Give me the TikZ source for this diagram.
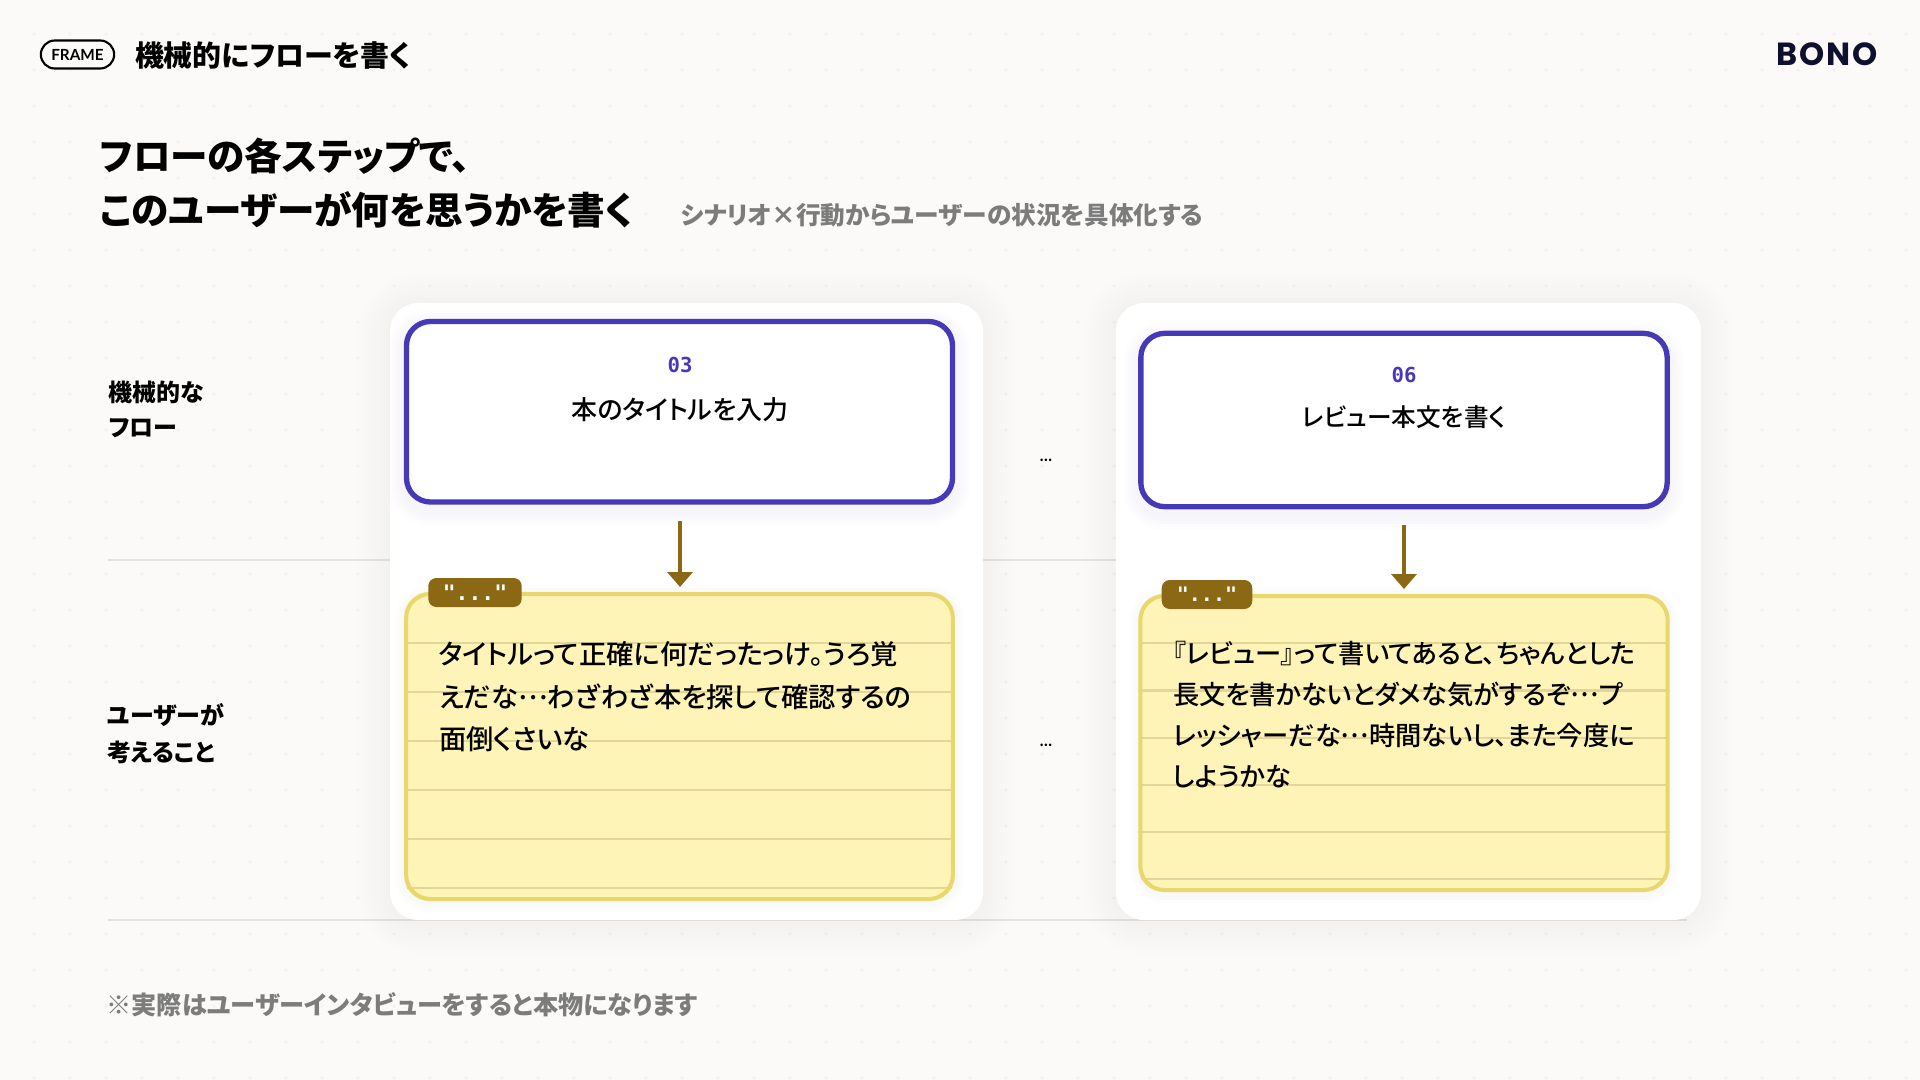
\documentclass[tikz,border=0pt]{standalone}
\usepackage{fontspec}
\usetikzlibrary{arrows.meta}
\setmainfont{Noto Sans CJK JP}[RawFeature=+palt]
\newfontfamily\medf{Noto Sans CJK JP Medium}[RawFeature=+palt]
\newfontfamily\monof{DejaVu Sans Mono}
\newfontfamily\latinf{Lato}
\newfontfamily\logof{Poppins}
\definecolor{pagebg}{HTML}{FBFAF8}
\definecolor{griddot}{HTML}{F3F2F0}
\definecolor{rulegray}{HTML}{E4E3E1}
\definecolor{flowpurple}{HTML}{4639B7}
\definecolor{notefill}{HTML}{FFF4B8}
\definecolor{noteedge}{HTML}{E8D76C}
\definecolor{noterule}{HTML}{E3D697}
\definecolor{tagbrown}{HTML}{8B6914}
\definecolor{softgray}{HTML}{7C7C7C}
\definecolor{logoink}{HTML}{0F1030}
\newcommand\pxf[2]{\fontsize{#1}{#2}\selectfont}
\newcommand\dotsfw{\raisebox{.3em}{…}}
% x1 y1 x2 y2 (px) radius colour opacity spreads
\newcommand\softshadow[8]{%
  \foreach \d in {#8}{%
    \fill[#6,opacity=#7,rounded corners=#5*.75pt+\d*.75pt]
      (#1-\d,#2-\d+2) rectangle (#3+\d,#4+\d+2);}}
\tikzset{
  txt/.style={inner sep=0pt,outer sep=0pt,text=black,align=left},
  whitecard/.style={fill=white,rounded corners=21pt,inner sep=0pt,outer sep=0pt},
  flowbox/.style={draw=flowpurple,line width=4pt,fill=white,rounded corners=18pt,inner sep=0pt},
  notefillbox/.style={fill=notefill,rounded corners=18pt,inner sep=0pt,outer sep=0pt},
  noteborder/.style={draw=noteedge,line width=3pt,rounded corners=18pt},
  noterulel/.style={draw=noterule,line width=1.8pt},
  tagbox/.style={fill=tagbrown,rounded corners=6pt,inner sep=0pt,text=white},
  flowarrow/.style={draw=tagbrown,line width=3.4pt,-{Triangle[length=11.25pt,width=18.75pt]}},
  hrule/.style={draw=rulegray,line width=1.2pt}
}
\begin{document}
\begin{tikzpicture}[x=.75pt,y=-.75pt]
\useasboundingbox (0,0) rectangle (1920,1080);
\fill[pagebg] (0,0) rectangle (1920,1080);
\foreach \i in {0,...,52}{\foreach \j in {0,...,29}{%
  \fill[griddot] (34+36*\i,34+36*\j) circle (1.8);}}
% rules
\coordinate (r1a) at (108,560); \coordinate (r1b) at (1687,560);
\coordinate (r2a) at (108,920); \coordinate (r2b) at (1687,920);
\draw[hrule] (r1a) -- (r1b);
\draw[hrule] (r2a) -- (r2b);
% header
\node[draw=black,line width=1.6pt,rounded corners=10.5pt,minimum width=55pt,minimum height=21pt,inner sep=0pt,font={\latinf\bfseries\pxf{11.5}{14}}] (frame) at (77.5,54.5) {FRAME};
\node[txt,anchor=west,font={\bfseries\pxf{21.7}{24}}] (ttl) at (135,55) {機械的にフローを書く};
\node[txt,anchor=east,text=logoink,font={\logof\bfseries\pxf{24}{26}}] (logo) at (1878,54.5) {B\kern1.6pt O\kern1.6pt N\kern1.6pt O};
\node[txt,anchor=west,font={\bfseries\pxf{28.2}{41}}] (head) at (100,183) {フローの各ステップで、\\このユーザーが何を思うかを書く};
\node[txt,anchor=west,text=softgray,font={\bfseries\pxf{18.5}{22}}] (sub) at (681,215) {シナリオ×行動からユーザーの状況を具体化する};
% row labels
\node[txt,anchor=west,font={\bfseries\pxf{18}{26.6}}] (rowa) at (108.5,409.5) {機械的な\\フロー};
\node[txt,anchor=west,font={\bfseries\pxf{18}{27.5}}] (rowb) at (107.5,733.5) {ユーザーが\\考えること};
\node[txt,anchor=west,text=softgray,font={\bfseries\pxf{18.9}{22}}] (foot) at (106.5,1005) {※実際はユーザーインタビューをすると本物になります};
\node[txt,font={\bfseries\pxf{9}{11}}] (ellA) at (1046,460) {...};
\node[txt,font={\bfseries\pxf{9}{11}}] (ellB) at (1046,745) {...};
% cards
\softshadow{390}{303}{983}{920}{28}{black}{.004}{32,28,...,4}
\softshadow{1116}{303}{1701}{920}{28}{black}{.004}{32,28,...,4}
\node[whitecard,minimum width=444.75pt,minimum height=462.75pt] (c1) at (686.5,611.5) {};
\node[whitecard,minimum width=438.75pt,minimum height=462.75pt] (c2) at (1408.5,611.5) {};
% left column
\softshadow{404}{323}{955}{508}{25}{flowpurple}{.009}{15,12,...,3}
\node[flowbox,minimum width=409.5pt,minimum height=135.4pt] (p1) at (679.5,411.75) {};
\node[txt,text=flowpurple,font={\monof\bfseries\pxf{15.5}{18}}] (n1) at (680,365) {03};
\node[txt,font={\medf\pxf{19.5}{22}}] (t1) at (680,409.5) {本のタイトルを入力};
\softshadow{404}{592}{955}{901}{25}{black}{.006}{9,6,3}
\node[notefillbox,minimum width=413pt,minimum height=231.75pt] (y1) at (679.5,746.5) {};
\begin{scope}
\clip[rounded corners=18pt] (y1.north west) rectangle (y1.south east);
\foreach \yy in {643,692,741,790,839,888}{\draw[noterulel] (400,\yy) -- (960,\yy);}
\end{scope}
\node[noteborder,minimum width=410pt,minimum height=228.75pt,inner sep=0pt] (y1b) at (679.5,746.5) {};
\node[tagbox,minimum width=70pt,minimum height=21.75pt,font={\monof\bfseries\pxf{16}{18}}] (g1) at (475,592.5) {"..."};
\draw[flowarrow,shorten <=12pt,shorten >=3.75pt] (p1.south -| n1) -- (y1.north -| n1);
\node[txt,anchor=west,font={\medf\pxf{20.5}{31.9}}] (q1) at (439,697) {タイトルって正確に何だったっけ。うろ覚\\えだな\dotsfw わざわざ本を探して確認するの\\面倒くさいな};
% right column
\softshadow{1139}{335}{1669}{513}{25}{flowpurple}{.009}{15,12,...,3}
\node[flowbox,minimum width=394.75pt,minimum height=130pt] (p2) at (1404,420) {};
\node[txt,text=flowpurple,font={\monof\bfseries\pxf{15.5}{18}}] (n2) at (1404,375) {06};
\node[txt,font={\medf\pxf{18.5}{22}}] (t2) at (1404,417.5) {レビュー本文を書く};
\softshadow{1139}{594}{1669}{892}{25}{black}{.006}{9,6,3}
\node[notefillbox,minimum width=398pt,minimum height=223.5pt] (y2) at (1404,743) {};
\begin{scope}
\clip[rounded corners=18pt] (y2.north west) rectangle (y2.south east);
\foreach \yy in {643,690.5,738,785,832,879}{\draw[noterulel] (1130,\yy) -- (1680,\yy);}
\end{scope}
\node[noteborder,minimum width=395.5pt,minimum height=220.5pt,inner sep=0pt] (y2b) at (1404,743) {};
\node[tagbox,minimum width=67.9pt,minimum height=21.75pt,font={\monof\bfseries\pxf{15}{18}}] (g2) at (1207,594.5) {"..."};
\draw[flowarrow,shorten <=12pt,shorten >=3.75pt] (p2.south -| n2) -- (y2.north -| n2);
\node[txt,anchor=west,font={\medf\pxf{19.7}{30.75}}] (q2) at (1173,714.5) {『レビュー』って書いてあると、ちゃんとした\\長文を書かないとダメな気がするぞ\dotsfw プ\\レッシャーだな\dotsfw 時間ないし、また今度に\\しようかな};
\end{tikzpicture}
\end{document}
